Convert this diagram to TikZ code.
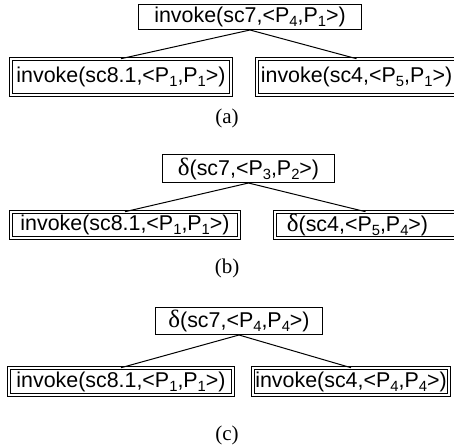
\documentclass[tikz,border=0pt]{standalone}
\usepackage{fontspec}
\setmainfont{Liberation Sans}
\newfontfamily\serifx{Liberation Serif}
\newcommand\sbx[1]{\raisebox{-0.38ex}{\fontsize{7.4}{7.4}\selectfont #1}}
\newcommand\dlt{{\serifx\fontsize{12.5}{12.5}\selectfont δ}}
\begin{document}
\begin{tikzpicture}[x=0.5pt,y=-0.5pt,
  lbl/.style={font=\fontsize{10.7}{12}\selectfont, inner sep=0pt, align=center},
  single/.style={lbl, draw, line width=0.5pt},
  dbl/.style={lbl, draw, line width=0.5pt, double, double distance=1.2pt},
  captext/.style={font=\serifx\fontsize{10.5}{12}\selectfont, inner sep=0pt},
  conn/.style={line width=0.5pt}]
\useasboundingbox (0,0) rectangle (454,445);
% (a)
\node[single, minimum width=111.5pt, minimum height=12.5pt] (at) at (250,17) {invoke(sc7,<P\sbx{4},P\sbx{1}>)};
\node[dbl, minimum width=109.8pt, minimum height=17.8pt] (al) at (121,77) {invoke(sc8.1,<P\sbx{1},P\sbx{1}>)};
\node[dbl, minimum width=99.3pt, minimum height=17.8pt] (ar) at (356.5,77) {invoke(sc4,<P\sbx{5},P\sbx{1}>)};
\draw[conn] (at.south) -- (al.north);
\draw[conn] (at.south) -- (ar.north);
\node[captext] (ca) at (227,118) {(a)};
% (b)
\node[single, minimum width=86pt, minimum height=14pt] (bt) at (248.5,168.5) {\dlt(sc7,<P\sbx{3},P\sbx{2}>)};
\node[dbl, minimum width=113.8pt, minimum height=12.8pt] (bl) at (125,225) {invoke(sc8.1,<P\sbx{1},P\sbx{1}>)};
\node[dbl, minimum width=90.3pt, minimum height=12.8pt] (br) at (365.5,225) {\dlt(sc4,<P\sbx{5},P\sbx{4}>)\hspace{8pt}};
\draw[conn] (bt.south) -- (bl.north);
\draw[conn] (bt.south) -- (br.north);
\node[captext] (cb) at (227,268) {(b)};
% (c)
\node[single, minimum width=83.5pt, minimum height=13.5pt] (ct) at (239,321) {\dlt(sc7,<P\sbx{4},P\sbx{4}>)};
\node[dbl, minimum width=111.8pt, minimum height=13.3pt] (cl) at (121,381.5) {invoke(sc8.1,<P\sbx{1},P\sbx{1}>)};
\node[dbl, minimum width=97.8pt, minimum height=13.3pt] (cr) at (351,381.5) {invoke(sc4,<P\sbx{4},P\sbx{4}>)};
\draw[conn] (ct.south) -- (cl.north);
\draw[conn] (ct.south) -- (cr.north);
\node[captext] (cc) at (227,435) {(c)};
\end{tikzpicture}
\end{document}
